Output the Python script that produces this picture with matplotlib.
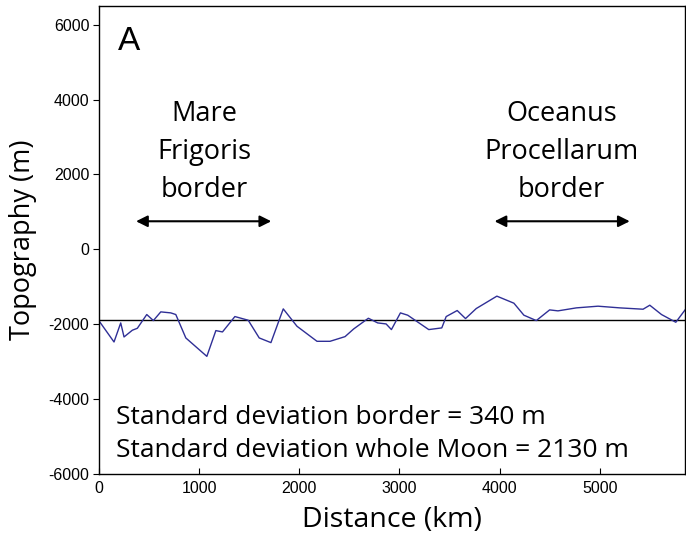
import matplotlib
matplotlib.use("Agg")
import matplotlib.pyplot as plt

plt.rcParams["axes.unicode_minus"] = False

distance_km = [10, 150, 217, 250, 333, 383, 477, 543, 617, 717, 767, 867, 1077, 1167,
               1233, 1357, 1490, 1600, 1717, 1840, 1977, 2177, 2307, 2457, 2543, 2690,
               2783, 2867, 2920, 3010, 3083, 3293, 3423, 3467, 3577, 3660, 3767, 3973,
               4143, 4243, 4367, 4500, 4583, 4767, 4983, 5200, 5433, 5500, 5617, 5760, 5860]
topography_m = [-1947, -2474, -1965, -2340, -2160, -2108, -1741, -1902, -1670, -1697,
                -1741, -2366, -2858, -2170, -2206, -1795, -1893, -2366, -2491, -1590,
                -2054, -2456, -2456, -2331, -2126, -1840, -1965, -1992, -2143, -1697,
                -1759, -2143, -2098, -1795, -1634, -1849, -1581, -1250, -1438, -1759,
                -1902, -1617, -1643, -1563, -1518, -1563, -1599, -1492, -1741, -1947, -1590]
mean_level = -1900
x_ticks = [0, 1000, 2000, 3000, 4000, 5000]
y_ticks = [-6000, -4000, -2000, 0, 2000, 4000, 6000]

label_font = "Open Sans"
fig = plt.figure(figsize=(6.86, 5.39), dpi=100)
ax = fig.add_axes([0.1443, 0.1206, 0.854, 0.8683])

ax.axhline(mean_level, color="black", lw=1.0)
ax.plot(distance_km, topography_m, color="#2f2f96", lw=1.0)

ax.set_xlim(0, 5850)
ax.set_ylim(-6000, 6500)
ax.set_xticks(x_ticks)
ax.set_yticks(y_ticks)
for lab in ax.get_xticklabels() + ax.get_yticklabels():
    lab.set_fontfamily("Liberation Sans")
    lab.set_fontsize(11.5)
ax.tick_params(axis="x", direction="in", length=4, pad=5)
ax.tick_params(axis="y", direction="out", length=4, pad=3)
for s in ax.spines.values():
    s.set_linewidth(1.0)

ax.set_xlabel("Distance (km)", family=label_font, fontsize=20.5, labelpad=7)
ax.set_ylabel("Topography (m)", family=label_font, fontsize=19.5, labelpad=8)

ax.text(190, 5550, "A", family="Liberation Sans", fontsize=24, va="center", ha="left")

ax.text(1050, 2600, "Mare\nFrigoris\nborder", family=label_font, fontsize=19.5,
        ha="center", va="center", linespacing=1.47)
ax.text(4620, 2600, "Oceanus\nProcellarum\nborder", family=label_font, fontsize=19.5,
        ha="center", va="center", linespacing=1.47)
for x0, x1 in [(370, 1720), (3950, 5300)]:
    ax.annotate("", xy=(x0, 750), xytext=(x1, 750),
                arrowprops=dict(arrowstyle="<|-|>", color="black", lw=1.5,
                                mutation_scale=17, shrinkA=0, shrinkB=0))

ax.text(170, -4920, "Standard deviation border = 340 m\nStandard deviation whole Moon = 2130 m",
        family=label_font, fontsize=19, ha="left", va="center", linespacing=1.42)

fig.savefig("out.png", dpi=100)
